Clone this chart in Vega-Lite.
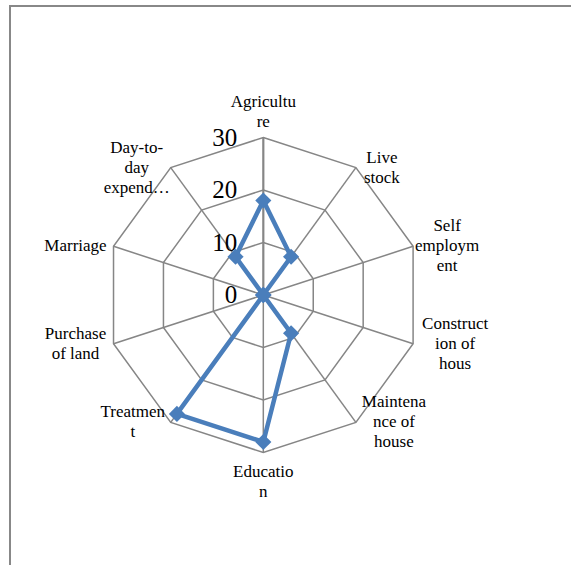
{
  "$schema": "https://vega.github.io/schema/vega-lite/v6.json",
  "width": 571,
  "height": 565,
  "autosize": {"type": "fit", "contains": "padding"},
  "padding": {"left": 10, "top": 6, "right": -4, "bottom": -4},
  "background": "white",
  "config": {"view": {"stroke": "#888888", "strokeWidth": 2}},
  "datasets": {
    "spend": [
      {"i": 0, "category": "Agriculture", "label": "Agricultu\nre", "value": 18},
      {"i": 1, "category": "Live stock", "label": "Live\nstock", "value": 9},
      {"i": 2, "category": "Self employment", "label": "Self\nemploym\nent", "value": 0},
      {"i": 3, "category": "Construction of house", "label": "Construct\nion of\nhous", "value": 0},
      {"i": 4, "category": "Maintenance of house", "label": "Maintena\nnce of\nhouse", "value": 9},
      {"i": 5, "category": "Education", "label": "Educatio\nn", "value": 28},
      {"i": 6, "category": "Treatment", "label": "Treatmen\nt", "value": 28},
      {"i": 7, "category": "Purchase of land", "label": "Purchase\nof land", "value": 0},
      {"i": 8, "category": "Marriage", "label": "Marriage", "value": 0},
      {"i": 9, "category": "Day-to-day expenditure", "label": "Day-to-\nday\nexpend…", "value": 9}
    ],
    "grid": [
      {"ring": 10, "i": 0}, {"ring": 10, "i": 1}, {"ring": 10, "i": 2}, {"ring": 10, "i": 3}, {"ring": 10, "i": 4},
      {"ring": 10, "i": 5}, {"ring": 10, "i": 6}, {"ring": 10, "i": 7}, {"ring": 10, "i": 8}, {"ring": 10, "i": 9},
      {"ring": 20, "i": 0}, {"ring": 20, "i": 1}, {"ring": 20, "i": 2}, {"ring": 20, "i": 3}, {"ring": 20, "i": 4},
      {"ring": 20, "i": 5}, {"ring": 20, "i": 6}, {"ring": 20, "i": 7}, {"ring": 20, "i": 8}, {"ring": 20, "i": 9},
      {"ring": 30, "i": 0}, {"ring": 30, "i": 1}, {"ring": 30, "i": 2}, {"ring": 30, "i": 3}, {"ring": 30, "i": 4},
      {"ring": 30, "i": 5}, {"ring": 30, "i": 6}, {"ring": 30, "i": 7}, {"ring": 30, "i": 8}, {"ring": 30, "i": 9}
    ],
    "ticks": [{"v": 0}, {"v": 10}, {"v": 20}, {"v": 30}]
  },
  "layer": [
    {
      "data": {"name": "grid"},
      "transform": [
        {"calculate": "datum.ring*sin(datum.i*PI/5)", "as": "x"},
        {"calculate": "datum.ring*cos(datum.i*PI/5)", "as": "y"}
      ],
      "mark": {"type": "line", "interpolate": "linear-closed", "color": "#868686", "strokeWidth": 1.5},
      "encoding": {
        "x": {"field": "x", "type": "quantitative", "scale": {"domain": [-48.25, 59.37], "nice": false, "zero": false}, "axis": null},
        "y": {"field": "y", "type": "quantitative", "scale": {"domain": [-52.19, 55.05], "nice": false, "zero": false}, "axis": null},
        "detail": {"field": "ring", "type": "nominal"},
        "order": {"field": "i", "type": "quantitative"}
      }
    },
    {
      "data": {"name": "spend"},
      "transform": [
        {"calculate": "0", "as": "x"},
        {"calculate": "0", "as": "y"},
        {"calculate": "30*sin(datum.i*PI/5)", "as": "sx"},
        {"calculate": "30*cos(datum.i*PI/5)", "as": "sy"}
      ],
      "mark": {"type": "rule", "color": "#868686"},
      "encoding": {
        "x": {"field": "x", "type": "quantitative"},
        "y": {"field": "y", "type": "quantitative"},
        "x2": {"field": "sx"},
        "y2": {"field": "sy"},
        "strokeWidth": {"condition": {"test": "datum.i == 0", "value": 2.2}, "value": 1.5}
      }
    },
    {
      "data": {"name": "ticks"},
      "transform": [
        {"calculate": "0", "as": "x"}
      ],
      "mark": {"type": "text", "align": "right", "baseline": "middle", "dx": -26, "font": "Liberation Serif", "fontSize": 25, "color": "#000000"},
      "encoding": {
        "x": {"field": "x", "type": "quantitative"},
        "y": {"field": "v", "type": "quantitative"},
        "text": {"field": "v", "type": "quantitative"}
      }
    },
    {
      "data": {"name": "spend"},
      "transform": [
        {"calculate": "datum.value*sin(datum.i*PI/5)", "as": "x"},
        {"calculate": "datum.value*cos(datum.i*PI/5)", "as": "y"}
      ],
      "mark": {"type": "line", "interpolate": "linear-closed", "color": "#4A7EBB", "strokeWidth": 4.5},
      "encoding": {
        "x": {"field": "x", "type": "quantitative"},
        "y": {"field": "y", "type": "quantitative"},
        "order": {"field": "i", "type": "quantitative"}
      }
    },
    {
      "data": {"name": "spend"},
      "transform": [
        {"calculate": "datum.value*sin(datum.i*PI/5)", "as": "x"},
        {"calculate": "datum.value*cos(datum.i*PI/5)", "as": "y"}
      ],
      "mark": {"type": "point", "shape": "diamond", "filled": true, "size": 260, "color": "#4A7EBB", "opacity": 1},
      "encoding": {
        "x": {"field": "x", "type": "quantitative"},
        "y": {"field": "y", "type": "quantitative"}
      }
    },
    {
      "data": {"name": "spend"},
      "transform": [
        {"calculate": "sin(datum.i*PI/5)", "as": "s"},
        {"calculate": "cos(datum.i*PI/5)", "as": "c"},
        {"calculate": "length(split(datum.label,'\\n'))", "as": "nl"},
        {"calculate": "max(length(split(datum.label,'\\n')[0]||''), length(split(datum.label,'\\n')[1]||''), length(split(datum.label,'\\n')[2]||''))", "as": "maxc"},
        {"calculate": "abs(datum.s) < 0.1 ? 0 : 30*datum.s + (datum.s > 0 ? 1 : -1)*(6 + 4*datum.maxc)/5.25", "as": "x"},
        {"calculate": "(abs(datum.s) < 0.1 ? (datum.c > 0 ? 30 + 26/5.25 : -30 - 29/5.25) : 30*datum.c) + (datum.nl - 1)*10/5.25", "as": "y"}
      ],
      "mark": {"type": "text", "align": "center", "baseline": "middle", "lineBreak": "\n", "lineHeight": 20, "font": "Liberation Serif", "fontSize": 17, "color": "#000000"},
      "encoding": {
        "x": {"field": "x", "type": "quantitative"},
        "y": {"field": "y", "type": "quantitative"},
        "text": {"field": "label", "type": "nominal"}
      }
    }
  ]
}
